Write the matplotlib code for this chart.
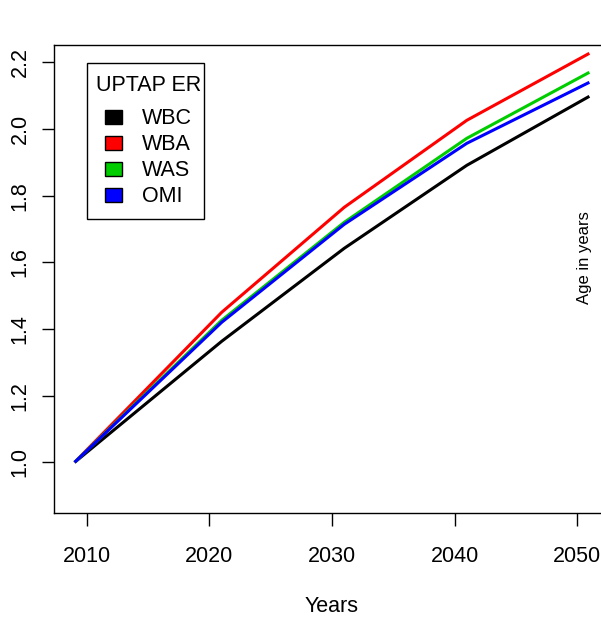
import matplotlib
matplotlib.use("Agg")
import matplotlib.pyplot as plt
from matplotlib.patches import Patch, Rectangle

plt.rcParams['font.family'] = ['Liberation Sans', 'DejaVu Sans']

# data
years = [2009, 2021, 2031, 2041, 2051]
wbc = [1.0, 1.363, 1.642, 1.891, 2.098]
wba = [1.0, 1.450, 1.765, 2.026, 2.227]
was = [1.0, 1.426, 1.720, 1.972, 2.170]
omi = [1.0, 1.420, 1.714, 1.957, 2.140]
series = [("WBC", wbc, "black"), ("WBA", wba, "red"),
          ("WAS", was, "#00cd00"), ("OMI", omi, "blue")]
xticks = [2010, 2020, 2030, 2040, 2050]
yticks = [1.0, 1.2, 1.4, 1.6, 1.8, 2.0, 2.2]

fs = 15.5

fig = plt.figure(figsize=(6.01, 6.17), dpi=100)
ax = fig.add_axes([0.0899, 0.1686, 0.925, 0.7585])

for name, vals, col in series:
    ax.plot(years, vals, color=col, lw=2.2, solid_capstyle='butt')

ax.set_xlim(2007.32, 2052.68)
ax.set_ylim(0.848, 2.252)
ax.set_xticks(xticks)
ax.set_yticks(yticks)
ax.set_yticklabels([f"{v:.1f}" for v in yticks], rotation=90, va='center')
ax.tick_params(axis='both', direction='out', length=9, width=1, labelsize=fs)
ax.tick_params(axis='x', pad=15)
ax.tick_params(axis='y', pad=8)
for s in ax.spines.values():
    s.set_linewidth(1)

ax.set_xlabel("Years", fontsize=fs, labelpad=21)
ax.text(2050.6, 1.615, "Age in years", rotation=90, fontsize=12,
        ha='center', va='center')

# legend box drawn on its own (R style, taller at the bottom)
ax.add_patch(Rectangle((0.0594, 0.6282), 0.2104, 0.3333, transform=ax.transAxes,
                       facecolor='white', edgecolor='black', lw=1, zorder=4))
handles = [Patch(facecolor=c, edgecolor='black', lw=1) for _, _, c in series]
leg = ax.legend(handles, [n for n, _, _ in series], title="UPTAP ER",
                loc='upper left', bbox_to_anchor=(0.0578, 0.9567),
                fontsize=fs, title_fontsize=fs, frameon=False,
                handlelength=0.8, handleheight=0.6, handletextpad=0.95,
                labelspacing=0.23, borderpad=0.45, borderaxespad=0)
leg.set_zorder(5)
leg._legend_box.sep = 9

fig.savefig("out.png", dpi=100)
